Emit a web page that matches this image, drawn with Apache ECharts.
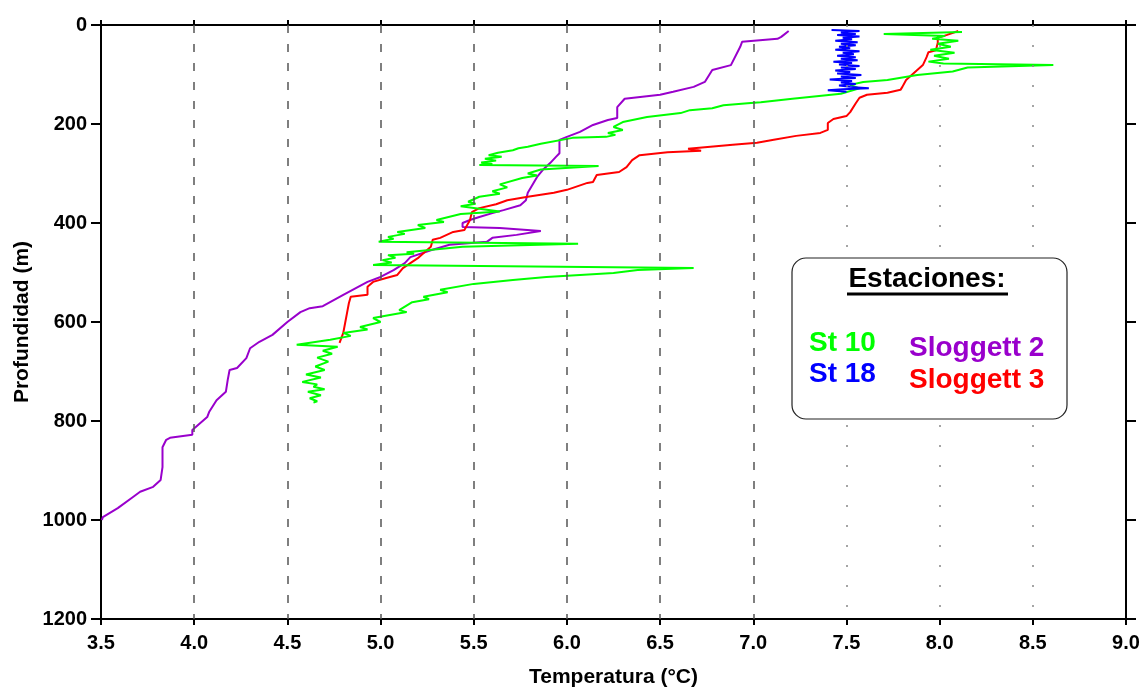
<!DOCTYPE html>
<html>
<head>
<meta charset="utf-8">
<script src="https://cdn.jsdelivr.net/npm/echarts@6/dist/echarts.min.js"></script>
<style>
  html, body { margin: 0; padding: 0; background: #fff; }
  #chart { width: 1144px; height: 687px; }
</style>
</head>
<body>
<div id="chart"></div>
<script>
// perfiles [temperatura °C, profundidad m]
const sloggett2 = [
  [7.19, 12], [7.15, 24], [7.13, 28], [6.94, 34], [6.93, 44], [6.88, 81], [6.78, 91], [6.74, 115],
  [6.68, 125], [6.57, 135], [6.50, 141], [6.31, 149], [6.27, 166], [6.27, 188], [6.22, 192], [6.14, 202],
  [6.07, 216], [6.00, 226], [5.96, 232], [5.96, 259], [5.94, 267], [5.91, 279], [5.87, 293], [5.84, 307],
  [5.79, 339], [5.78, 354], [5.75, 364], [5.66, 374], [5.60, 380], [5.53, 388], [5.48, 394], [5.44, 400],
  [5.44, 408], [5.64, 410], [5.86, 416], [5.73, 424], [5.60, 430], [5.57, 438], [5.37, 444], [5.27, 455],
  [5.16, 469], [5.13, 481], [5.07, 495], [5.00, 509], [4.93, 519], [4.87, 531], [4.80, 545], [4.69, 568],
  [4.62, 572], [4.57, 580], [4.50, 600], [4.42, 626], [4.35, 640], [4.30, 653], [4.28, 673], [4.23, 693],
  [4.19, 697], [4.18, 717], [4.17, 741], [4.12, 758], [4.08, 782], [4.07, 792], [3.99, 818], [3.99, 828],
  [3.87, 834], [3.85, 838], [3.83, 853], [3.83, 893], [3.82, 919], [3.78, 933], [3.71, 943], [3.67, 954],
  [3.59, 976], [3.51, 994], [3.505, 1000]
]

const sloggett3 = [
  [8.10, 12], [8.04, 20], [7.99, 26], [7.99, 36], [7.98, 51], [7.94, 55], [7.93, 65], [7.91, 81],
  [7.88, 91], [7.85, 101], [7.82, 111], [7.80, 125], [7.79, 131], [7.72, 137], [7.61, 141], [7.57, 147],
  [7.55, 158], [7.52, 176], [7.50, 184], [7.43, 190], [7.40, 198], [7.40, 212], [7.36, 218], [7.23, 224],
  [7.11, 232], [7.02, 238], [6.89, 242], [6.77, 246], [6.65, 250], [6.72, 254], [6.54, 257], [6.39, 263],
  [6.35, 273], [6.32, 287], [6.28, 297], [6.16, 303], [6.14, 317], [6.11, 319], [6.00, 333], [5.93, 339],
  [5.79, 347], [5.68, 354], [5.62, 362], [5.53, 370], [5.49, 378], [5.48, 394], [5.45, 414], [5.39, 418],
  [5.32, 430], [5.28, 434], [5.27, 448], [5.23, 461], [5.20, 471], [5.16, 481], [5.12, 491], [5.09, 505],
  [5.03, 511], [4.96, 519], [4.93, 529], [4.93, 545], [4.84, 549], [4.83, 562], [4.82, 582], [4.81, 602],
  [4.80, 622], [4.78, 642]
]

const st10 = [
  [8.12, 14], [7.70, 18], [8.03, 22], [7.96, 28], [8.10, 32], [7.99, 38], [8.06, 44], [7.95, 50],
  [8.08, 56], [7.97, 62], [8.05, 68], [7.94, 74], [8.02, 78], [8.61, 81], [8.15, 86], [8.07, 94],
  [7.88, 101], [7.72, 111], [7.59, 115], [7.52, 121], [7.57, 128], [7.47, 139], [7.21, 149], [7.04, 156],
  [6.97, 158], [6.84, 162], [6.78, 168], [6.66, 172], [6.61, 178], [6.43, 186], [6.30, 196], [6.25, 206],
  [6.30, 212], [6.22, 218], [6.26, 222], [6.21, 226], [6.03, 228], [5.86, 240], [5.79, 246], [5.74, 249],
  [5.71, 253], [5.63, 258], [5.58, 263], [5.65, 266], [5.56, 270], [5.62, 274], [5.54, 278], [5.60, 281],
  [5.53, 283], [6.17, 285], [5.86, 292], [5.79, 300], [5.84, 304], [5.76, 309], [5.64, 322], [5.68, 328],
  [5.60, 336], [5.64, 341], [5.53, 347], [5.47, 357], [5.51, 361], [5.43, 366], [5.64, 377], [5.43, 382],
  [5.30, 394], [5.34, 398], [5.20, 404], [5.24, 410], [5.09, 418], [5.13, 422], [5.04, 428], [5.07, 432],
  [4.99, 438], [6.06, 442], [5.44, 448], [5.14, 459], [5.18, 462], [5.04, 465], [5.08, 470], [5.01, 475],
  [5.06, 480], [4.96, 485], [6.68, 491], [6.38, 495], [6.25, 501], [5.89, 509], [5.71, 515], [5.50, 523],
  [5.32, 535], [5.36, 540], [5.23, 549], [5.26, 554], [5.17, 560], [5.10, 576], [5.14, 580], [5.05, 586],
  [4.96, 592], [5.00, 600], [4.89, 610], [4.93, 615], [4.80, 622], [4.84, 628], [4.73, 636], [4.55, 646],
  [4.77, 650], [4.69, 658], [4.74, 664], [4.66, 672], [4.72, 680], [4.65, 690], [4.70, 697], [4.60, 706],
  [4.68, 712], [4.58, 721], [4.66, 726], [4.64, 731], [4.70, 736], [4.61, 741], [4.68, 748], [4.62, 754],
  [4.66, 760], [4.64, 763]
]

const st18 = [
  [7.42, 10], [7.57, 12], [7.47, 15], [7.55, 18], [7.45, 20], [7.57, 23], [7.48, 26], [7.53, 29],
  [7.44, 32], [7.56, 35], [7.47, 38], [7.55, 41], [7.46, 44], [7.52, 47], [7.44, 50], [7.57, 53],
  [7.48, 56], [7.54, 59], [7.45, 62], [7.55, 65], [7.47, 68], [7.56, 71], [7.43, 74], [7.53, 77],
  [7.46, 80], [7.57, 83], [7.47, 86], [7.55, 89], [7.44, 92], [7.52, 95], [7.45, 98], [7.58, 101],
  [7.47, 104], [7.55, 107], [7.41, 110], [7.53, 113], [7.47, 116], [7.55, 119], [7.46, 122], [7.52, 125],
  [7.62, 128], [7.48, 130], [7.40, 132], [7.50, 135]
]

// lineas verticales de referencia
const dashedGrid = [4.0, 4.5, 5.0, 5.5, 6.0, 6.5, 7.0]
const dottedGrid = [7.5, 8.0, 8.5]

const FONT = '"Liberation Sans", Arial, sans-serif'

const axisLine = { show: true, onZero: false, lineStyle: { color: '#000', width: 2 } }
const tickStyle = { color: '#000', width: 2 }
const labelStyle = { color: '#000', fontSize: 20, fontWeight: 'bold', fontFamily: FONT }
const nameStyle = { color: '#000', fontSize: 21, fontWeight: 'bold', fontFamily: FONT }

const chart = echarts.init(document.getElementById('chart'))

const profile = (name, data, color) => ({
  name,
  type: 'line',
  data,
  showSymbol: false,
  symbol: 'none',
  sampling: null,
  lineStyle: { color, width: 2 },
  z: 3
})

const legendText = (text, x, y, color, align) => ({
  type: 'text',
  x,
  y,
  z: 101,
  style: {
    text,
    fill: color,
    font: 'bold 28px ' + FONT,
    align: align || 'left',
    verticalAlign: 'middle'
  }
})

chart.setOption({
  animation: false,
  backgroundColor: '#fff',
  grid: { left: 101, right: 18, top: 25, bottom: 68, outerBoundsMode: 'none', containLabel: false },
  xAxis: [
    {
      type: 'value',
      position: 'bottom',
      min: 3.5,
      max: 9,
      interval: 0.5,
      axisLine,
      axisTick: { show: true, length: 6, lineStyle: tickStyle },
      axisLabel: { ...labelStyle, margin: 14, showMinLabel: true, showMaxLabel: true, formatter: v => v.toFixed(1) },
      splitLine: { show: false },
      name: 'Temperatura (°C)',
      nameLocation: 'middle',
      nameGap: 48,
      nameMoveOverlap: false,
      nameTextStyle: nameStyle
    },
    {
      type: 'value',
      position: 'top',
      min: 3.5,
      max: 9,
      interval: 0.5,
      axisLine,
      axisTick: { show: true, length: 5, lineStyle: tickStyle },
      axisLabel: { show: false },
      splitLine: { show: false }
    }
  ],
  yAxis: [
    {
      type: 'value',
      position: 'left',
      inverse: true,
      min: 0,
      max: 1200,
      interval: 200,
      axisLine,
      axisTick: { show: true, length: 10, lineStyle: tickStyle },
      axisLabel: { ...labelStyle, margin: 14, showMinLabel: true, showMaxLabel: true, formatter: v => String(v) },
      splitLine: { show: false },
      name: 'Profundidad (m)',
      nameLocation: 'middle',
      nameGap: 68,
      nameRotate: 90,
      nameMoveOverlap: false,
      nameTextStyle: nameStyle
    },
    {
      type: 'value',
      position: 'right',
      inverse: true,
      min: 0,
      max: 1200,
      interval: 200,
      axisLine,
      axisTick: { show: true, length: 10, lineStyle: tickStyle },
      axisLabel: { show: false },
      splitLine: { show: false }
    }
  ],
  series: [
    {
      type: 'line',
      data: [],
      silent: true,
      z: 1,
      markLine: {
        silent: true,
        symbol: 'none',
        label: { show: false },
        animation: false,
        data: [
          ...dashedGrid.map(v => ({ xAxis: v, lineStyle: { color: '#555', width: 1.5, type: [8, 11] } })),
          ...dottedGrid.map(v => ({ xAxis: v, lineStyle: { color: '#888', width: 1.5, type: [2, 18] } }))
        ]
      }
    },
    profile('Sloggett 2', sloggett2, '#9900cc'),
    profile('Sloggett 3', sloggett3, '#ff0000'),
    profile('St 10', st10, '#00ff00'),
    profile('St 18', st18, '#0000ff')
  ],
  graphic: [
    {
      type: 'rect',
      x: 792,
      y: 258,
      z: 100,
      shape: { width: 275, height: 161, r: 14 },
      style: { fill: '#fff', stroke: '#222', lineWidth: 1.2 }
    },
    legendText('Estaciones:', 927, 279, '#000', 'center'),
    {
      type: 'line',
      z: 101,
      shape: { x1: 847, y1: 294, x2: 1008, y2: 294 },
      style: { stroke: '#000', lineWidth: 3 }
    },
    legendText('St 10', 809, 343, '#00ff00'),
    legendText('St 18', 809, 374, '#0000ff'),
    legendText('Sloggett 2', 909, 348, '#9900cc'),
    legendText('Sloggett 3', 909, 380, '#ff0000')
  ]
})

window.addEventListener('resize', () => chart.resize())
</script>
</body>
</html>
